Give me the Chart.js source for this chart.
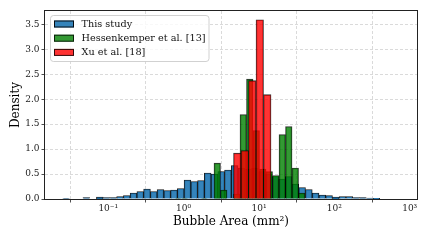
<!DOCTYPE html>
<html>
<head>
<meta charset="utf-8">
<script src="https://cdn.jsdelivr.net/npm/chart.js@4.4.0/dist/chart.umd.min.js"></script>
<style>
  html, body { margin: 0; padding: 0; background: #fff; }
</style>
</head>
<body>
<canvas id="histChart" width="430" height="242"></canvas>
<script>
// log-spaced bins: log10 of the first edge and log10 bin width
const studyLogStart = -1.605, studyLogStep = 0.0895;
const studyDensity = [
    0.013, 0, 0, 0.03, 0, 0.04, 0.03, 0.03, 0.05, 0.07,
    0.12, 0.15, 0.2, 0.15, 0.19, 0.17, 0.18, 0.21, 0.38, 0.35,
    0.37, 0.52, 0.5, 0.55, 0.58, 0.67, 0.62, 0.6, 0.62, 0.55,
    0.5, 0.45, 0.4, 0.45, 0.3, 0.23, 0.19, 0.12, 0.08, 0.07,
    0.04, 0.05, 0.05, 0.03, 0.03, 0.02, 0.015
];

const hessLogStart = -0.115, hessLogStep = 0.0863;
const hessDensity = [
    0.01, 0.01, 0, 0, 0.01, 0, 0.72, 0.18, 0, 0.1,
    1.69, 2.4, 1.37, 0.6, 0.55, 0.47, 1.29, 1.45, 0.62, 0.12
];

const xuLogStart = 0.662, xuLogStep = 0.0995;
const xuDensity = [0.92, 0.97, 2.37, 3.59, 2.09];

const seriesLabels = ['This study', 'Hessenkemper et al. [13]', 'Xu et al. [18]'];
const xTickValues = [0.1, 1, 10, 100, 1000];
const xTickLabels = ['10⁻¹', '10⁰', '10¹', '10²', '10³'];
const yTickValues = [0, 0.5, 1, 1.5, 2, 2.5, 3, 3.5];

const xMin = 0.01445, xMax = 1250;
const yMax = 3.766;

const fillColors = ['rgba(31,119,180,0.9)', 'rgba(0,128,0,0.8)', 'rgba(255,0,0,0.8)'];
const edgeColors = ['rgba(0,0,0,0.9)', 'rgba(0,0,0,0.8)', 'rgba(0,0,0,0.8)'];

Chart.defaults.font.family = "'DejaVu Serif', serif";
Chart.defaults.color = '#222';

function binPoints(logStart, logStep, values) {
    return values.map((v, i) => ({ x: Math.pow(10, logStart + (i + 0.5) * logStep), y: v }));
}

const gridColor = 'rgba(170,170,170,0.55)';

function hiddenLogAxis() {
    return {
        type: 'logarithmic',
        display: false,
        min: xMin,
        max: xMax,
        afterBuildTicks: (s) => { s.ticks = []; }
    };
}

// spines + legend box drawn over the plot like matplotlib does
const frameAndLegend = {
    id: 'frameAndLegend',
    afterDatasetsDraw(chart) {
        const { ctx, chartArea: a } = chart;
        ctx.save();
        ctx.strokeStyle = '#222';
        ctx.lineWidth = 1;
        ctx.strokeRect(a.left - 0.5, a.top - 0.5, a.width + 1, a.height + 1);

        const bx = a.left + 5.5, by = a.top + 4.5, bw = 158.5, bh = 46;
        ctx.beginPath();
        ctx.roundRect(bx, by, bw, bh, 3);
        ctx.fillStyle = 'rgba(255,255,255,0.8)';
        ctx.fill();
        ctx.strokeStyle = 'rgba(204,204,204,0.9)';
        ctx.stroke();

        ctx.font = "9.7px 'DejaVu Serif'";
        ctx.textBaseline = 'middle';
        ctx.textAlign = 'left';
        seriesLabels.forEach((label, i) => {
            const cy = a.top + 13 + i * 14.2;
            ctx.fillStyle = fillColors[i];
            ctx.fillRect(a.left + 9, cy - 3.5, 20, 7);
            ctx.strokeStyle = edgeColors[i];
            ctx.strokeRect(a.left + 9.5, cy - 3, 19, 6);
            ctx.fillStyle = '#111';
            ctx.fillText(label, a.left + 36.5, cy + 0.5);
        });
        ctx.restore();
    }
};

const ctx = document.getElementById('histChart').getContext('2d');

const histChart = new Chart(ctx, {
    type: 'bar',
    data: {
        datasets: [
            {
                label: seriesLabels[0],
                data: binPoints(studyLogStart, studyLogStep, studyDensity),
                xAxisID: 'x',
                backgroundColor: fillColors[0],
                borderColor: edgeColors[0],
                order: 3
            },
            {
                label: seriesLabels[1],
                data: binPoints(hessLogStart, hessLogStep, hessDensity),
                xAxisID: 'xHess',
                backgroundColor: fillColors[1],
                borderColor: edgeColors[1],
                order: 2
            },
            {
                label: seriesLabels[2],
                data: binPoints(xuLogStart, xuLogStep, xuDensity),
                xAxisID: 'xXu',
                backgroundColor: fillColors[2],
                borderColor: edgeColors[2],
                order: 1
            }
        ]
    },
    options: {
        responsive: false,
        animation: false,
        layout: { padding: { top: 11, right: 13, left: 9, bottom: 13 } },
        datasets: {
            bar: {
                barPercentage: 1,
                categoryPercentage: 1,
                grouped: false,
                borderWidth: 0.9,
                borderSkipped: 'start'
            }
        },
        scales: {
            x: {
                type: 'logarithmic',
                min: xMin,
                max: xMax,
                afterBuildTicks: (s) => { s.ticks = xTickValues.map(v => ({ value: v })); },
                afterFit: (s) => { s.height = 30; },
                ticks: {
                    autoSkip: false,
                    maxRotation: 0,
                    padding: 1,
                    font: { size: 9 },
                    callback: (v) => xTickLabels[xTickValues.indexOf(v)]
                },
                grid: {
                    color: gridColor,
                    lineWidth: 0.8,
                    tickColor: '#222',
                    tickLength: 3.5,
                    tickWidth: 0.8
                },
                border: { display: false, dash: [3, 2] },
                title: {
                    display: true,
                    text: 'Bubble Area (mm²)',
                    font: { size: 12 },
                    color: '#000',
                    padding: { top: 0, bottom: 0 }
                }
            },
            xHess: hiddenLogAxis(),
            xXu: hiddenLogAxis(),
            y: {
                min: 0,
                max: yMax,
                afterBuildTicks: (s) => { s.ticks = yTickValues.map(v => ({ value: v })); },
                afterFit: (s) => { s.width = 36; },
                ticks: {
                    padding: 2,
                    font: { size: 9 },
                    callback: (v) => v.toFixed(1)
                },
                grid: {
                    color: gridColor,
                    lineWidth: 0.8,
                    tickColor: '#222',
                    tickLength: 3.5,
                    tickWidth: 0.8
                },
                border: { display: false, dash: [3, 2] },
                title: {
                    display: true,
                    text: 'Density',
                    font: { size: 12 },
                    color: '#000',
                    padding: { top: 0, bottom: 2 }
                }
            }
        },
        plugins: {
            legend: { display: false },
            tooltip: { enabled: false }
        }
    },
    plugins: [frameAndLegend]
});
</script>
</body>
</html>
